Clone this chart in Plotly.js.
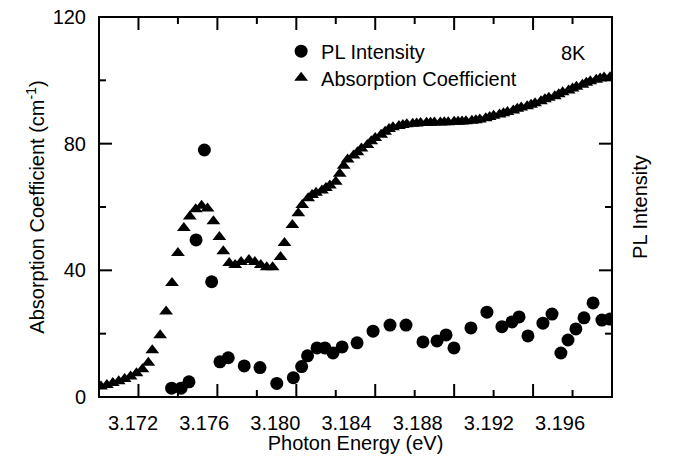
<!DOCTYPE html>
<html>
<head>
<meta charset="utf-8">
<script src="https://cdn.plot.ly/plotly-3.0.1.min.js"></script>
<style>html,body{margin:0;padding:0;background:#fff;}#chart{width:673px;height:465px;}</style>
</head>
<body>
<div id="chart"></div>
<script>
// Absorption coefficient (cm^-1) vs photon energy (eV)
const absEnergy = [
  3.1701, 3.1704, 3.1707, 3.1710, 3.1713, 3.1716, 3.1719, 3.1722, 3.1725, 3.1727,
  3.1731, 3.1734, 3.1737, 3.1740, 3.1743, 3.1746, 3.1749, 3.1752, 3.1755, 3.1758,
  3.1761, 3.1763, 3.1766, 3.1769, 3.1772, 3.1776, 3.1779, 3.1782, 3.1785, 3.1788,
  3.1792, 3.1794, 3.1798, 3.1801, 3.1803, 3.1806,
  3.1808, 3.1810, 3.1813, 3.1815, 3.1817, 3.1820, 3.1822, 3.1824, 3.1826, 3.1829,
  3.1831, 3.1833, 3.1836, 3.1838, 3.1840, 3.1843, 3.1845, 3.1847, 3.1849, 3.1852,
  3.1854, 3.1856, 3.1859, 3.1861, 3.1863, 3.1866, 3.1868, 3.1870, 3.1873, 3.1875,
  3.1877, 3.1880, 3.1882, 3.1884, 3.1886, 3.1889, 3.1891, 3.1893, 3.1896, 3.1898,
  3.1900, 3.1903, 3.1905, 3.1907, 3.1910, 3.1912, 3.1914, 3.1917, 3.1919, 3.1921,
  3.1924, 3.1926, 3.1928, 3.1931, 3.1933, 3.1935, 3.1938, 3.1940, 3.1942, 3.1945,
  3.1947, 3.1949, 3.1952, 3.1954, 3.1956, 3.1959
];
const absCoeff = [
  3.3, 3.8, 4.4, 5.0, 5.7, 6.5, 7.5, 8.8, 10.8, 14.8,
  19.5, 27.0, 36.0, 45.5, 53.4, 57.0, 59.3, 60.4, 59.5, 55.5,
  50.5, 46.0, 42.3, 41.7, 42.6, 43.3, 42.6, 41.7, 41.0, 41.0,
  44.2, 48.6, 54.3, 58.0, 60.6, 62.8,
  63.8, 64.5, 65.2, 66.0, 66.8, 68.0, 70.5, 73.0, 75.0, 76.3,
  77.3, 78.5, 79.6, 80.8, 81.8, 82.8, 83.8, 84.6, 85.2, 85.6,
  85.9, 86.1, 86.3, 86.4, 86.5, 86.6, 86.6, 86.7, 86.7, 86.8,
  86.8, 86.9, 86.9, 87.0, 87.1, 87.2, 87.4, 87.6, 88.0, 88.4,
  88.8, 89.2, 89.6, 90.0, 90.5, 91.0, 91.4, 91.8, 92.3, 92.8,
  93.4, 94.0, 94.5, 95.0, 95.6, 96.2, 96.8, 97.4, 98.0, 98.6,
  99.2, 99.7, 100.2, 100.6, 100.9, 101.0
];

// PL intensity (arb. units, right axis)
const plEnergy = [
  3.17368, 3.17416, 3.17456, 3.17492, 3.17534, 3.17571, 3.17613, 3.17655, 3.17736, 3.17816,
  3.17901, 3.17985, 3.18027, 3.18057, 3.18105, 3.18145, 3.18186, 3.18232, 3.18308, 3.18389,
  3.18475, 3.18556, 3.18642, 3.18713, 3.18759, 3.18799, 3.18885, 3.18966, 3.19042, 3.19093,
  3.19129, 3.19174, 3.19250, 3.19296, 3.19341, 3.19377, 3.19417, 3.19458, 3.19504, 3.19549,
  3.19590
];
const plIntensity = [
  2.8, 2.8, 4.8, 49.6, 78.0, 36.4, 11.1, 12.4, 9.8, 9.3,
  4.3, 6.1, 9.6, 13.0, 15.5, 15.5, 13.9, 15.8, 17.1, 20.8,
  22.7, 22.7, 17.4, 17.7, 19.6, 15.5, 21.8, 26.8, 22.2, 23.7,
  25.3, 19.3, 23.3, 26.2, 13.9, 18.0, 21.5, 25.0, 29.7, 24.3,
  24.6
];

// Tick labels and tick mark positions
const xTickLabels = ["3.172", "3.176", "3.180", "3.184", "3.188", "3.192", "3.196"];
const xTickLabelVals = [3.172, 3.176, 3.180, 3.184, 3.188, 3.192, 3.196];
const xMajorTicks = [3.172, 3.176, 3.180, 3.184, 3.188, 3.192];
const xMinorTicks = [3.174, 3.178, 3.182, 3.186, 3.190, 3.194];
const yMajorTicks = [40, 80];
const yMinorTicks = [20, 60, 100];

const FONT = "Arial, Liberation Sans, Helvetica, sans-serif";
const FS = 20;
const PLOT_W = 513, PLOT_H = 380;       // plot area size in px
const MAJOR_LEN = 13, MINOR_LEN = 7;    // tick lengths in px
const TICK_LINE = {color: "#000", width: 2};

// tick marks drawn on all four sides through the axes' own scales
const shapes = [];
function xTick(v, len) {
  const f = len / PLOT_H;
  shapes.push({type: "line", xref: "x", yref: "paper", x0: v, x1: v, y0: 0, y1: f, line: TICK_LINE, layer: "above"});
  shapes.push({type: "line", xref: "x", yref: "paper", x0: v, x1: v, y0: 1, y1: 1 - f, line: TICK_LINE, layer: "above"});
}
function yTick(v, len) {
  const f = len / PLOT_W;
  shapes.push({type: "line", xref: "paper", yref: "y", x0: 0, x1: f, y0: v, y1: v, line: TICK_LINE, layer: "above"});
  shapes.push({type: "line", xref: "paper", yref: "y", x0: 1, x1: 1 - f, y0: v, y1: v, line: TICK_LINE, layer: "above"});
}
xMajorTicks.forEach(v => xTick(v, MAJOR_LEN));
xMinorTicks.forEach(v => xTick(v, MINOR_LEN));
yMajorTicks.forEach(v => yTick(v, MAJOR_LEN));
yMinorTicks.forEach(v => yTick(v, MINOR_LEN));
// plot frame
shapes.push({type: "rect", xref: "paper", yref: "paper", x0: 0, x1: 1, y0: 0, y1: 1,
             line: {color: "#000", width: 2}, fillcolor: "rgba(0,0,0,0)", layer: "above"});

const traces = [
  {
    x: plEnergy, y: plIntensity, type: "scatter", mode: "markers",
    name: "PL Intensity", xaxis: "x", yaxis: "y2", legend: "legend",
    marker: {symbol: "circle", size: 13, color: "#000"}
  },
  {
    x: absEnergy, y: absCoeff, type: "scatter", mode: "markers",
    name: "Absorption Coefficient", xaxis: "x", yaxis: "y", legend: "legend2",
    marker: {symbol: "triangle-up", size: 12, color: "#000"}
  },
  {
    // carries the tick-label axis (x2); fully transparent
    x: [xTickLabelVals[0]], y: [absCoeff[0]], type: "scatter", mode: "markers",
    xaxis: "x2", yaxis: "y", showlegend: false, hoverinfo: "skip",
    marker: {size: 1, opacity: 0, color: "rgba(0,0,0,0)"}
  }
];

const layout = {
  width: 673, height: 465,
  margin: {l: 99, r: 61, t: 17, b: 68},
  paper_bgcolor: "#fff", plot_bgcolor: "#fff",
  font: {family: FONT, size: FS, color: "#000"},
  showlegend: true,
  shapes: shapes,
  xaxis: {
    range: [3.170, 3.196], ticks: "", showticklabels: false,
    showline: false, showgrid: false, zeroline: false,
    title: {text: "Photon Energy (eV)", font: {size: FS}, standoff: 38}
  },
  xaxis2: {
    overlaying: "x", anchor: "y", side: "bottom", range: [3.17009, 3.19892],
    tickmode: "array", tickvals: xTickLabelVals, ticktext: xTickLabels,
    ticks: "", showline: false, showgrid: false, zeroline: false,
    tickfont: {size: FS}, ticklabelstandoff: 12
  },
  yaxis: {
    range: [0, 120], tickmode: "array", tickvals: [0, 40, 80, 120],
    ticks: "", showline: false, showgrid: false, zeroline: false,
    tickfont: {size: FS}, ticklabelstandoff: 12,
    title: {text: "Absorption Coefficient (cm<sup>-1</sup>)", font: {size: FS}, standoff: 2}
  },
  yaxis2: {
    overlaying: "y", side: "right", range: [0, 120],
    showticklabels: false, ticks: "", showline: false, showgrid: false, zeroline: false,
    title: {text: "PL Intensity", font: {size: FS}, standoff: 20}
  },
  legend: {x: 0.355, y: 0.91, xanchor: "left", yanchor: "middle",
           bgcolor: "rgba(0,0,0,0)", font: {size: FS}, itemwidth: 30},
  legend2: {x: 0.355, y: 0.84, xanchor: "left", yanchor: "middle",
            bgcolor: "rgba(0,0,0,0)", font: {size: FS}, itemwidth: 30},
  annotations: [
    {text: "8K", xref: "paper", yref: "paper", x: 0.924, y: 0.905, showarrow: false,
     xanchor: "center", yanchor: "middle", font: {size: FS}}
  ]
};

Plotly.newPlot("chart", traces, layout, {displayModeBar: false});
</script>
</body>
</html>
